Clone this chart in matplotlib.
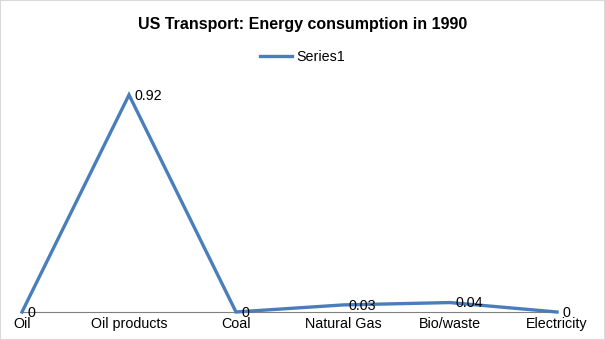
import matplotlib.pyplot as plt

plt.rcParams['font.family'] = ['Liberation Sans', 'DejaVu Sans']

categories = ['Oil', 'Oil products', 'Coal', 'Natural Gas', 'Bio/waste', 'Electricity']
values = [0, 0.92, 0, 0.03, 0.04, 0]
labels = ['0', '0.92', '0', '0.03', '0.04', '0']

fig = plt.figure(figsize=(6.05, 3.4), dpi=100)
ax = fig.add_axes([22 / 605, 1 - 312 / 340, (557 - 22) / 605, (312 - 76) / 340])

x = list(range(len(categories)))
line, = ax.plot(x, values, color='#4a7ebb', linewidth=2.4, label='Series1',
                solid_joinstyle='miter', clip_on=False)

for xi, v, lab in zip(x, values, labels):
    ax.annotate(lab, (xi, v), xytext=(4, -0.5), textcoords='offset points',
                ha='left', va='center', fontsize=10.3, color='black')

ax.set_xlim(0, 5)
ax.set_ylim(0, 1)
ax.set_xticks(x)
ax.set_xticklabels(categories, fontsize=10.3)
ax.tick_params(axis='x', length=0, pad=3.5)
ax.set_yticks([])
for side in ['top', 'right', 'left']:
    ax.spines[side].set_visible(False)
ax.spines['bottom'].set_color('#808080')
ax.spines['bottom'].set_linewidth(0.8)
ax.set_zorder(1)
line.set_zorder(3)

fig.text(0.5, 1 - 25 / 340, 'US Transport: Energy consumption in 1990',
         ha='center', va='center', fontsize=11.5, fontweight='bold')
fig.legend(handles=[line], loc='center', bbox_to_anchor=(0.5, 1 - 57 / 340),
           frameon=False, fontsize=10.3, handlelength=2.2, handletextpad=0.3)

# light border around the chart area
fig.patches.append(plt.Rectangle((0, 0), 1, 1, transform=fig.transFigure,
                                 fill=False, edgecolor='#d9d9d9', linewidth=1.5))

fig.savefig('out.png', dpi=100)
